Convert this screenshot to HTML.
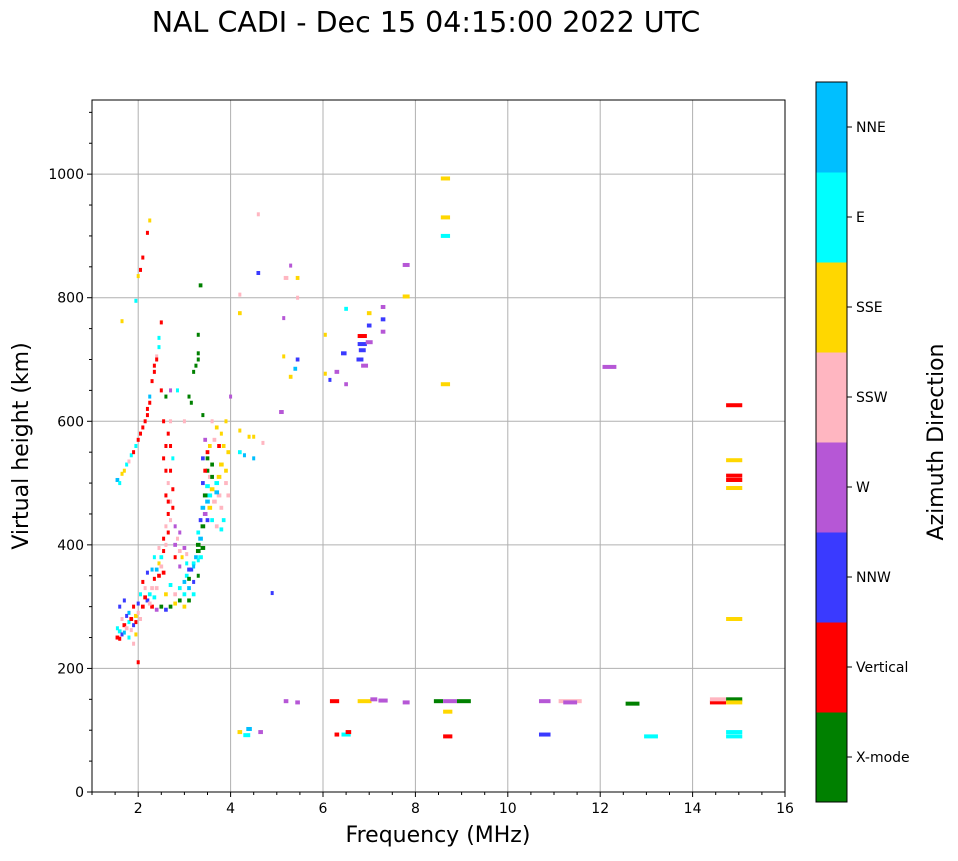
<!DOCTYPE html>
<html><head><meta charset="utf-8"><style>
body{margin:0;background:#fff;font-family:"DejaVu Sans",sans-serif}
svg text{font-family:"DejaVu Sans","Liberation Sans",sans-serif;fill:#000}
</style></head><body>
<svg width="958" height="857" xmlns="http://www.w3.org/2000/svg">
<text x="426" y="32" font-size="28.5" text-anchor="middle">NAL CADI - Dec 15 04:15:00 2022 UTC</text>
<g id="grid"></g>
<g id="marks"></g>
<rect x="92" y="100" width="693" height="692" fill="none" stroke="#000" stroke-width="1"/>
<g id="axes"></g>
<text x="438" y="842" font-size="22" text-anchor="middle">Frequency (MHz)</text>
<text x="28" y="446" font-size="22" text-anchor="middle" transform="rotate(-90 28 446)">Virtual height (km)</text>
<g id="cbar"></g>
<text x="943" y="442" font-size="22" text-anchor="middle" transform="rotate(-90 943 442)">Azimuth Direction</text>
</svg>
<script>
const xTicks=[2,4,6,8,10,12,14,16];
const yTicks=[0,200,400,600,800,1000];
const cats=["X-mode","Vertical","NNW","W","SSW","SSE","E","NNE"];
const catColors=["#008000","#ff0000","#3a3aff","#b657d6","#ffb6c1","#ffd700","#00ffff","#00bfff"];
// [freq MHz, height km, azimuth index, width MHz]
const echoes=[
[1.55,250,1,.08],[1.6,260,6,.08],[1.65,255,2,.06],[1.7,270,1,.08],[1.75,265,4,.08],[1.8,275,6,.06],[1.85,280,1,.08],[1.9,270,2,.06],[1.95,285,5,.08],[1.6,300,2,.05],[1.7,310,2,.05],[1.8,290,7,.06],[1.55,265,6,.05],[1.65,280,4,.06],[1.9,300,1,.05],[2.0,290,4,.06],
[1.6,248,1,.06],[1.7,258,7,.06],[1.75,285,2,.05],[1.85,262,4,.06],[1.95,275,1,.06],[2.0,305,2,.05],[2.05,320,6,.06],[2.1,340,1,.06],[2.15,330,4,.06],[1.8,250,6,.05],[1.95,255,5,.05],[2.05,280,4,.06],[2.0,210,1,.04],[1.9,240,4,.04],
[1.55,505,7,.08],[1.65,515,5,.06],[1.75,530,6,.06],[1.85,545,6,.06],[1.95,560,6,.06],[2.05,580,1,.06],[2.15,600,1,.06],[2.2,620,1,.06],[2.25,640,7,.05],[2.3,665,1,.05],[2.35,690,1,.05],[2.45,720,6,.06],[2.1,865,1,.06],[2.2,905,1,.05],[2.25,925,5,.05],[1.95,795,6,.05],[2.0,835,5,.05],[1.65,762,5,.05],
[1.6,500,6,.06],[1.7,520,5,.06],[1.8,535,4,.06],[1.9,550,1,.06],[2.0,570,1,.06],[2.1,590,1,.06],[2.2,610,1,.06],[2.25,630,1,.06],[2.35,680,1,.05],[2.4,705,4,.05],[2.45,735,6,.05],[2.05,845,1,.05],
[2.1,300,1,.08],[2.2,310,2,.08],[2.25,320,6,.08],[2.3,330,4,.08],[2.35,345,1,.06],[2.4,360,7,.08],[2.45,370,5,.06],[2.5,380,6,.08],[2.2,355,2,.06],[2.3,300,1,.08],[2.4,295,3,.08],[2.5,300,0,.08],[2.6,295,2,.08],[2.7,300,0,.08],[2.8,305,5,.08],[2.9,310,0,.08],[3.0,320,6,.08],[3.1,330,7,.08],[3.2,340,2,.06],[3.3,350,0,.06],
[2.15,315,1,.08],[2.25,305,4,.08],[2.35,315,6,.08],[2.4,330,4,.08],[2.45,350,1,.08],[2.5,365,4,.08],[2.55,355,1,.08],[2.3,360,7,.06],[2.35,380,6,.06],[2.45,395,4,.06],[2.55,410,1,.06],[2.6,430,4,.06],[2.65,450,1,.06],[2.7,470,4,.06],[2.75,490,1,.06],
[2.6,320,5,.08],[2.7,335,6,.08],[2.8,320,4,.08],[2.9,330,6,.08],[3.0,340,7,.08],[3.05,350,6,.08],[3.1,345,0,.08],[3.15,360,2,.08],[3.2,370,6,.08],[3.25,380,7,.08],[3.0,300,5,.08],[3.1,310,0,.08],[3.2,320,6,.08],[2.9,365,3,.06],[2.95,380,5,.06],[3.05,385,4,.06],[2.8,380,1,.06],
[2.55,390,1,.06],[2.6,400,4,.06],[2.65,420,1,.06],[2.7,440,4,.06],[2.75,460,1,.06],[2.6,480,1,.05],[2.65,500,4,.05],[2.7,520,1,.05],[2.75,540,6,.05],[2.6,560,1,.05],[2.55,600,1,.05],[2.6,640,0,.05],[2.5,650,1,.05],[2.5,760,1,.05],[2.4,700,1,.05],[2.8,400,3,.08],[2.9,390,4,.08],[3.0,395,3,.08],[3.05,370,6,.06],[3.1,360,2,.08],[3.2,365,7,.06],[3.3,375,6,.06],
[2.65,580,1,.05],[2.7,600,4,.05],[2.6,520,1,.05],[2.7,560,1,.05],[2.55,540,1,.05],[2.65,470,1,.05],[2.8,430,3,.06],[2.85,410,4,.06],[2.9,420,3,.06],
[3.1,640,0,.05],[3.2,680,0,.05],[3.3,700,0,.05],[3.35,820,0,.08],[3.3,740,0,.04],[3.0,600,4,.05],[2.85,650,6,.05],[2.7,650,3,.05],[3.25,690,0,.05],[3.15,630,0,.05],[3.3,710,0,.05],
[3.3,390,0,.1],[3.35,410,7,.1],[3.4,430,0,.1],[3.45,450,3,.1],[3.5,470,7,.1],[3.55,480,6,.1],[3.6,490,5,.1],[3.7,500,6,.1],[3.75,480,4,.1],[3.8,460,4,.08],[3.85,440,6,.08],[3.9,520,5,.08],[3.95,550,5,.08],[3.6,530,0,.08],[3.5,550,1,.08],[3.45,570,3,.08],[3.6,600,4,.06],[3.7,590,5,.08],[3.8,580,5,.06],[3.4,610,0,.05],[3.5,520,0,.08],[3.4,500,2,.08],[3.35,440,2,.08],[3.3,420,6,.08],[3.55,510,4,.08],[3.9,600,5,.05],[4.0,640,3,.05],
[3.3,400,0,.1],[3.35,380,6,.1],[3.4,395,0,.1],[3.4,460,7,.1],[3.45,480,0,.1],[3.5,495,6,.1],[3.55,460,5,.1],[3.65,470,4,.1],[3.7,485,7,.1],[3.75,510,5,.1],[3.8,530,5,.1],[3.85,560,5,.08],[3.9,500,4,.08],[3.95,480,4,.08],[3.6,440,6,.08],[3.7,430,4,.08],[3.8,425,6,.08],[3.5,540,0,.08],[3.55,560,5,.08],[3.65,570,4,.08],[3.75,560,1,.08],[3.45,520,1,.08],[3.4,540,2,.08],[3.6,510,0,.08],[3.5,440,2,.08],
[4.2,550,6,.08],[4.3,545,7,.06],[4.5,540,7,.06],[4.5,575,5,.06],[4.7,565,4,.06],[4.2,585,5,.06],[4.4,575,5,.06],[4.2,775,5,.08],[4.2,805,4,.06],[4.6,840,2,.08],[4.6,935,4,.06],[4.9,322,2,.06],
[5.1,615,3,.1],[5.15,705,5,.06],[5.3,672,5,.08],[5.4,685,7,.08],[5.45,700,2,.08],[5.2,832,4,.1],[5.45,832,5,.08],[5.3,852,3,.06],[5.45,800,4,.06],[5.15,767,3,.06],[6.05,740,5,.06],[6.15,667,2,.06],[6.05,677,5,.06],
[6.3,680,3,.1],[6.45,710,2,.12],[6.5,660,3,.08],[6.5,782,6,.08],[6.8,700,2,.15],[6.85,715,2,.15],[6.85,725,2,.2],[6.85,738,1,.2],[6.9,690,3,.15],[7.0,728,3,.15],[7.0,755,2,.1],[7.0,775,5,.1],[7.3,765,2,.1],[7.3,785,3,.1],[7.3,745,3,.1],[7.8,802,5,.15],[7.8,853,3,.15],[8.65,660,5,.2],[8.65,900,6,.2],[8.65,930,5,.2],[8.65,993,5,.2],[12.2,688,3,.3],
[4.2,97,5,.1],[4.4,102,7,.12],[4.35,92,6,.15],[4.65,97,3,.1],[5.2,147,3,.1],[5.45,145,3,.1],[6.25,147,1,.2],[6.3,93,1,.1],[6.5,93,6,.2],[6.55,97,1,.12],[6.9,147,5,.3],[7.1,150,3,.15],[7.3,148,3,.2],[7.8,145,3,.15],[8.5,147,0,.2],[8.75,147,3,.3],[9.05,147,0,.3],[8.7,130,5,.2],[8.7,90,1,.2],[10.8,147,3,.25],[10.8,93,2,.25],[11.35,147,4,.5],[11.35,145,3,.3],[12.7,143,0,.3],[13.1,90,6,.3],[14.55,145,1,.35],[14.55,150,4,.35],[14.9,150,0,.35],[14.9,145,5,.35],[14.9,90,6,.35],[14.9,97,6,.35],[14.9,280,5,.35],[14.9,492,5,.35],[14.9,505,1,.35],[14.9,512,1,.35],[14.9,537,5,.35],[14.9,626,1,.35]
];
const NS="http://www.w3.org/2000/svg";
const X0=92,X1=785,Y0=792,Y1=100,XMIN=1,XMAX=16,YMIN=0,YMAX=1120;
const xs=v=>X0+(v-XMIN)/(XMAX-XMIN)*(X1-X0);
const ys=v=>Y0-(v-YMIN)/(YMAX-YMIN)*(Y0-Y1);
function mk(tag,attrs,parent){const e=document.createElementNS(NS,tag);for(const k in attrs)e.setAttribute(k,attrs[k]);parent.appendChild(e);return e;}
const grid=document.getElementById('grid'),axes=document.getElementById('axes'),marks=document.getElementById('marks'),cbar=document.getElementById('cbar');
xTicks.forEach(t=>{const x=xs(t);
 const g=mk('line',{x1:x,x2:x,y1:Y1,y2:Y0,stroke:'#b0b0b0','stroke-width':1},grid);
 
 mk('line',{x1:x,x2:x,y1:Y0,y2:Y0+5,stroke:'#000'},axes);
 const tx=mk('text',{x:x,y:Y0+21,'font-size':14,'text-anchor':'middle'},axes);tx.textContent=t;
 });
for(let t=1;t<=16;t+=0.5){if(Number.isInteger(t/2))continue;const x=xs(t);mk('line',{x1:x,x2:x,y1:Y0,y2:Y0+3,stroke:'#000'},axes);}
yTicks.forEach(t=>{const y=ys(t);
 if(t>0){const g=mk('line',{x1:X0,x2:X1,y1:y,y2:y,stroke:'#b0b0b0','stroke-width':1},grid);
 }
 mk('line',{x1:X0-5,x2:X0,y1:y,y2:y,stroke:'#000'},axes);
 const tx=mk('text',{x:X0-8,y:y+5,'font-size':14,'text-anchor':'end'},axes);tx.textContent=t;
 });
for(let t=50;t<1120;t+=50){if(t%200===0)continue;const y=ys(t);mk('line',{x1:X0-3,x2:X0,y1:y,y2:y,stroke:'#000'},axes);}
echoes.forEach(d=>{const w=Math.max(3,xs(d[0]+d[3])-xs(d[0]));
 const r=mk('rect',{x:xs(d[0])-w/2,y:ys(d[1])-2,width:w,height:4,fill:catColors[d[2]]},marks);
 
 });
const CB0=802,CB1=82,segH=(CB0-CB1)/cats.length;
cats.forEach((c,i)=>{const y=CB0-(i+1)*segH;
 const r=mk('rect',{x:816,y:y,width:31,height:segH+0.5,fill:catColors[i]},cbar);
 
 mk('line',{x1:847,x2:852,y1:y+segH/2,y2:y+segH/2,stroke:'#000'},cbar);
 const tx=mk('text',{x:856,y:y+segH/2+5,'font-size':14},cbar);tx.textContent=c;
 });
mk('rect',{x:816,y:CB1,width:31,height:CB0-CB1,fill:'none',stroke:'#000','stroke-width':1},cbar);
</script>
</body></html>
